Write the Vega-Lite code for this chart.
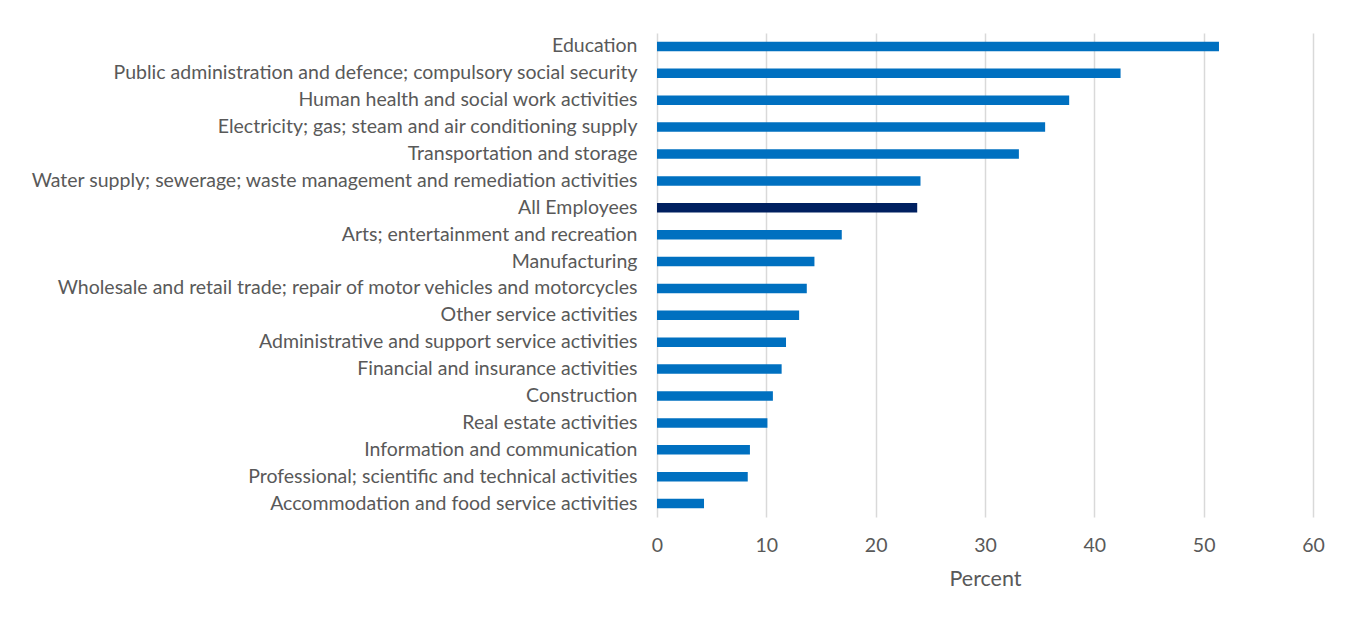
{
  "$schema": "https://vega.github.io/schema/vega-lite/v6.json",
  "autosize": "none",
  "padding": {"left": 657, "top": 33, "right": 39, "bottom": 102},
  "width": 656,
  "height": 484,
  "background": "white",
  "config": {
    "view": {"stroke": null},
    "font": "Lato"
  },
  "data": {
    "values": [
      {"industry": "Education", "percent": 51.4, "group": "Industry"},
      {"industry": "Public administration and defence; compulsory social security", "percent": 42.4, "group": "Industry"},
      {"industry": "Human health and social work activities", "percent": 37.7, "group": "Industry"},
      {"industry": "Electricity; gas; steam and air conditioning supply", "percent": 35.5, "group": "Industry"},
      {"industry": "Transportation and storage", "percent": 33.1, "group": "Industry"},
      {"industry": "Water supply; sewerage; waste management and remediation activities", "percent": 24.1, "group": "Industry"},
      {"industry": "All Employees", "percent": 23.8, "group": "All"},
      {"industry": "Arts; entertainment and recreation", "percent": 16.9, "group": "Industry"},
      {"industry": "Manufacturing", "percent": 14.4, "group": "Industry"},
      {"industry": "Wholesale and retail trade; repair of motor vehicles and motorcycles", "percent": 13.7, "group": "Industry"},
      {"industry": "Other service activities", "percent": 13.0, "group": "Industry"},
      {"industry": "Administrative and support service activities", "percent": 11.8, "group": "Industry"},
      {"industry": "Financial and insurance activities", "percent": 11.4, "group": "Industry"},
      {"industry": "Construction", "percent": 10.6, "group": "Industry"},
      {"industry": "Real estate activities", "percent": 10.1, "group": "Industry"},
      {"industry": "Information and communication", "percent": 8.5, "group": "Industry"},
      {"industry": "Professional; scientific and technical activities", "percent": 8.3, "group": "Industry"},
      {"industry": "Accommodation and food service activities", "percent": 4.3, "group": "Industry"}
    ]
  },
  "mark": {"type": "bar", "size": 9.5},
  "encoding": {
    "y": {
      "field": "industry",
      "type": "nominal",
      "sort": null,
      "scale": {"paddingInner": 0.65, "paddingOuter": 0.325},
      "axis": {
        "title": null,
        "domain": false,
        "ticks": false,
        "labelPadding": 20,
        "labelFontSize": 19.5,
        "labelColor": "#595959",
        "labelLimit": 700
      }
    },
    "x": {
      "field": "percent",
      "type": "quantitative",
      "scale": {"domain": [0, 60], "nice": false},
      "axis": {
        "values": [0, 10, 20, 30, 40, 50, 60],
        "title": "Percent",
        "titleFontSize": 21.5,
        "titleFontWeight": "normal",
        "titleColor": "#595959",
        "titlePadding": 14,
        "domain": false,
        "ticks": false,
        "labelFlush": false,
        "labelPadding": 19,
        "labelFontSize": 19.5,
        "labelColor": "#595959",
        "grid": true,
        "gridColor": "#d9d9d9",
        "gridWidth": 1.5
      }
    },
    "color": {
      "field": "group",
      "type": "nominal",
      "scale": {"domain": ["Industry", "All"], "range": ["#0070c0", "#002060"]},
      "legend": null
    }
  }
}
